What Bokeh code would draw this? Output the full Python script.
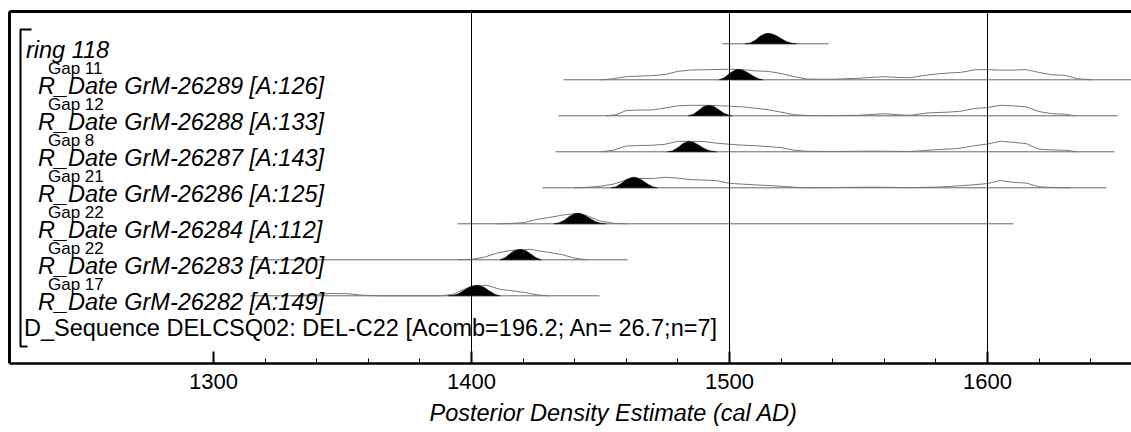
import numpy as np
from bokeh.plotting import figure
from bokeh.models import Range1d, FixedTicker, LinearAxis, Span, Title
from bokeh.core.properties import value
from bokeh.embed import file_html
from bokeh.resources import INLINE

# ---------------- data ----------------
row_labels = ["ring 118",
              "R_Date GrM-26289 [A:126]",
              "R_Date GrM-26288 [A:133]",
              "R_Date GrM-26287 [A:143]",
              "R_Date GrM-26286 [A:125]",
              "R_Date GrM-26284 [A:112]",
              "R_Date GrM-26283 [A:120]",
              "R_Date GrM-26282 [A:149]"]
gap_labels = ["", "Gap 11", "Gap 12", "Gap 8", "Gap 21", "Gap 22", "Gap 22", "Gap 17"]
sequence_label = "D_Sequence DELCSQ02: DEL-C22 [Acomb=196.2; An= 26.7;n=7]"
x_title = "Posterior Density Estimate (cal AD)"

range_start = [1497.3, 1435.7, 1433.7, 1432.6, 1427.5, 1394.6, 1314.3, 1314.3]
range_end = [1538.4, 1660.0, 1650.4, 1649.2, 1646.1, 1610.0, 1460.5, 1449.6]

major_ticks = [1300, 1400, 1500, 1600]
minor_ticks = [1320, 1340, 1360, 1380, 1420, 1440, 1460, 1480,
               1520, 1540, 1560, 1580, 1620, 1640]
grid_years = [1400, 1500, 1600]

# unmodelled (prior) likelihoods, relative height
prior_26289_x = [1450, 1455, 1460, 1465, 1470, 1475, 1480, 1485, 1490, 1495, 1500, 1505, 1510, 1515,
                 1520, 1525, 1530, 1535, 1540, 1550, 1560, 1565, 1570, 1575, 1580, 1585, 1590, 1595,
                 1600, 1605, 1610, 1615, 1620, 1625, 1630, 1635, 1640]
prior_26289_y = [0, 0.1, 0.3, 0.35, 0.4, 0.5, 0.8, 0.93, 0.95, 0.98, 1.0, 0.97, 0.85, 0.8,
                 0.6, 0.3, 0.08, 0.05, 0.05, 0.15, 0.3, 0.22, 0.2, 0.4, 0.55, 0.65, 0.72, 0.95,
                 0.97, 0.92, 0.92, 0.97, 0.7, 0.48, 0.42, 0.1, 0]
prior_26288_x = [1452, 1456, 1460, 1465, 1470, 1475, 1480, 1485, 1490, 1495, 1500, 1505, 1510, 1515,
                 1520, 1525, 1530, 1540, 1550, 1560, 1565, 1570, 1577, 1585, 1590, 1595, 1600, 1605,
                 1610, 1615, 1620, 1625, 1630, 1634]
prior_26288_y = [0, 0.1, 0.5, 0.55, 0.55, 0.75, 0.95, 1.0, 1.0, 0.97, 0.92, 0.85, 0.72, 0.58,
                 0.35, 0.1, 0.03, 0.02, 0.05, 0.2, 0.1, 0.05, 0.28, 0.35, 0.45, 0.7, 0.78, 1.0,
                 0.95, 0.85, 0.4, 0.2, 0.15, 0]
prior_26287_x = [1450, 1455, 1460, 1465, 1470, 1475, 1480, 1485, 1490, 1495, 1500, 1505, 1510, 1515,
                 1520, 1525, 1530, 1540, 1555, 1570, 1580, 1588, 1595, 1600, 1605, 1610, 1615, 1620,
                 1625, 1630, 1635]
prior_26287_y = [0, 0.15, 0.55, 0.6, 0.62, 0.72, 1.0, 1.0, 0.98, 0.82, 0.72, 0.63, 0.58, 0.5,
                 0.4, 0.15, 0.05, 0.03, 0.06, 0.03, 0.2, 0.3, 0.58, 0.75, 1.0, 0.9, 0.78, 0.25,
                 0.18, 0.15, 0]
prior_26286_x = [1440, 1445, 1450, 1455, 1460, 1465, 1470, 1475, 1480, 1485, 1490, 1495, 1500, 1505,
                 1510, 1515, 1520, 1525, 1530, 1555, 1570, 1580, 1590, 1595, 1600, 1605, 1610, 1615,
                 1620, 1625, 1632]
prior_26286_y = [0, 0.05, 0.15, 0.35, 0.75, 0.88, 0.88, 1.0, 0.92, 0.78, 0.74, 0.68, 0.42, 0.35,
                 0.28, 0.22, 0.15, 0.05, 0, 0.06, 0.02, 0.06, 0.2, 0.3, 0.4, 0.7, 0.52, 0.45,
                 0.1, 0.03, 0]
prior_26284_x = [1410, 1415, 1420, 1425, 1430, 1435, 1440, 1442, 1445, 1450, 1455, 1460]
prior_26284_y = [0, 0.03, 0.1, 0.4, 0.6, 0.82, 0.97, 1.0, 0.75, 0.25, 0.05, 0]
prior_26283_x = [1395, 1400, 1405, 1410, 1415, 1420, 1423, 1426, 1430, 1435, 1440, 1445]
prior_26283_y = [0, 0.05, 0.25, 0.65, 0.88, 0.95, 1.0, 0.85, 0.7, 0.5, 0.15, 0]
prior_26282_x = [1330, 1338, 1345, 1352, 1358, 1365, 1388, 1393, 1398, 1402, 1406, 1411, 1416,
                 1421, 1426, 1430]
prior_26282_y = [0, 0.1, 0.22, 0.2, 0.05, 0, 0, 0.15, 0.7, 0.93, 1.0, 0.62, 0.47,
                 0.3, 0.07, 0]

# modelled (posterior) densities, relative height
post_ring118_x = [1506, 1508, 1510, 1512, 1514, 1515, 1516, 1518, 1520, 1522, 1524, 1526]
post_ring118_y = [0, 0.08, 0.35, 0.75, 0.97, 1.0, 0.97, 0.8, 0.5, 0.22, 0.07, 0]
post_26289_x = [1496, 1498, 1500, 1502, 1503.5, 1505, 1507, 1509, 1511, 1513]
post_26289_y = [0, 0.2, 0.6, 0.92, 1.0, 0.93, 0.7, 0.38, 0.12, 0]
post_26288_x = [1484, 1486, 1488, 1490, 1492, 1494, 1496, 1498, 1500, 1501]
post_26288_y = [0, 0.15, 0.5, 0.88, 1.0, 0.88, 0.55, 0.22, 0.05, 0]
post_26287_x = [1476, 1478, 1480, 1482, 1484, 1486, 1488, 1490, 1492, 1494, 1495]
post_26287_y = [0, 0.1, 0.4, 0.8, 1.0, 0.92, 0.65, 0.35, 0.12, 0.03, 0]
post_26286_x = [1454, 1456, 1458, 1460, 1462, 1463, 1464, 1466, 1468, 1470, 1472]
post_26286_y = [0, 0.1, 0.4, 0.78, 0.98, 1.0, 0.97, 0.75, 0.4, 0.12, 0]
post_26284_x = [1432, 1434, 1436, 1438, 1440, 1441, 1442, 1444, 1446, 1448, 1450, 1452]
post_26284_y = [0, 0.1, 0.35, 0.72, 0.97, 1.0, 0.97, 0.8, 0.5, 0.22, 0.06, 0]
post_26283_x = [1411, 1413, 1415, 1417, 1419, 1421, 1423, 1425, 1427]
post_26283_y = [0, 0.2, 0.6, 0.92, 1.0, 0.88, 0.55, 0.2, 0]
post_26282_x = [1391, 1393, 1395, 1397, 1399, 1401, 1402, 1403, 1405, 1407, 1409, 1411]
post_26282_y = [0, 0.05, 0.2, 0.5, 0.82, 0.98, 1.0, 0.98, 0.8, 0.45, 0.15, 0]

prior_rows = [(1, prior_26289_x, prior_26289_y), (2, prior_26288_x, prior_26288_y),
              (3, prior_26287_x, prior_26287_y), (4, prior_26286_x, prior_26286_y),
              (5, prior_26284_x, prior_26284_y), (6, prior_26283_x, prior_26283_y),
              (7, prior_26282_x, prior_26282_y)]
post_rows = [(0, post_ring118_x, post_ring118_y), (1, post_26289_x, post_26289_y),
             (2, post_26288_x, post_26288_y), (3, post_26287_x, post_26287_y),
             (4, post_26286_x, post_26286_y), (5, post_26284_x, post_26284_y),
             (6, post_26283_x, post_26283_y), (7, post_26282_x, post_26282_y)]

# ---------------- layout ----------------
PX_PER_YR = 2.58
PX_PER_ROW = 36.0
LEFT = 9
TOP = 11
FRAME_W = 1131 - LEFT
FRAME_H = 352
X0 = 1400 - 462 / PX_PER_YR
X1 = X0 + FRAME_W / PX_PER_YR
Y1 = 32.3 / PX_PER_ROW
Y0 = Y1 - FRAME_H / PX_PER_ROW
AMP = 10.5 / PX_PER_ROW
FONT = "Liberation Sans"

def px_x(px):
    return X0 + px / PX_PER_YR

def px_y(px_from_top):
    return Y1 - px_from_top / PX_PER_ROW

p = figure(width=1131, height=432, x_range=Range1d(X0, X1), y_range=Range1d(Y0, Y1),
           output_backend="svg", toolbar_location=None,
           min_border_left=LEFT, min_border_right=0, min_border_top=TOP,
           min_border_bottom=432 - TOP - FRAME_H)
p.grid.visible = False
p.outline_line_color = None
p.background_fill_color = "white"
p.border_fill_color = "white"

# baselines
rows = list(range(len(row_labels)))
p.segment(x0=range_start, y0=[-i for i in rows], x1=range_end, y1=[-i for i in rows],
          line_color="#666666", line_width=1)

# priors
p.multi_line(xs=[list(xv) for _, xv, _ in prior_rows],
             ys=[[-i + AMP * v for v in yv] for i, _, yv in prior_rows],
             line_color="#777777", line_width=1)

# posteriors
p.patches(xs=[list(xv) for _, xv, _ in post_rows],
          ys=[[-i + AMP * v for v in yv] for i, _, yv in post_rows],
          fill_color="black", line_color="black", line_width=0.5)

# vertical reference lines
for yr in grid_years:
    p.add_layout(Span(location=yr, dimension="height", line_color="black", line_width=1))

# labels
p.text(x=[px_x(16.5)], y=[-0 - 6.5 / PX_PER_ROW], text=[row_labels[0]],
       text_font=value(FONT), text_font_size=value("23.5px"), text_font_style="italic",
       text_baseline="alphabetic", text_align="left", text_color="black")
p.text(x=[px_x(28.5)] * 7, y=[-i - 6.5 / PX_PER_ROW for i in rows[1:]], text=row_labels[1:],
       text_font=value(FONT), text_font_size=value("23.5px"), text_font_style="italic",
       text_baseline="alphabetic", text_align="left", text_color="black")
p.text(x=[px_x(38.5)] * 7, y=[-i + 11 / PX_PER_ROW for i in rows[1:]], text=gap_labels[1:],
       text_font=value(FONT), text_font_size=value("17px"),
       text_baseline="alphabetic", text_align="left", text_color="black")
p.text(x=[px_x(14.5)], y=[px_y(316.3)], text=[sequence_label],
       text_font=value(FONT), text_font_size=value("23.5px"),
       text_baseline="alphabetic", text_align="left", text_color="black")

# bracket
p.line(x=[px_x(22), px_x(11), px_x(11), px_x(18)],
       y=[px_y(18), px_y(18), px_y(335), px_y(335)], line_color="black", line_width=2)

# bottom axis
ax = p.xaxis[0]
ax.ticker = FixedTicker(ticks=major_ticks, minor_ticks=minor_ticks)
ax.major_tick_in = 12
ax.major_tick_out = 0
ax.minor_tick_in = 5
ax.minor_tick_out = 0
ax.major_tick_line_width = 2
ax.minor_tick_line_width = 1
ax.major_tick_line_color = "black"
ax.minor_tick_line_color = "black"
ax.axis_line_width = 2.5
ax.axis_line_color = "black"
ax.major_label_text_font = FONT
ax.major_label_text_font_size = "22px"
ax.major_label_text_color = "black"
ax.major_label_standoff = 10

# left border as axis line
ay = p.yaxis[0]
ay.ticker = FixedTicker(ticks=[])
ay.major_tick_line_color = None
ay.minor_tick_line_color = None
ay.major_tick_out = 0
ay.minor_tick_out = 0
ay.major_label_standoff = 0
ay.major_label_text_font_size = "0px"
ay.axis_line_width = 3
ay.axis_line_color = "black"

# top border as axis line
at = LinearAxis(ticker=FixedTicker(ticks=[]), major_tick_line_color=None, minor_tick_line_color=None,
                major_tick_out=0, minor_tick_out=0, major_label_standoff=0,
                major_label_text_font_size="0px", axis_line_width=3, axis_line_color="black")
p.add_layout(at, "above")

# axis title
t = Title(text=x_title, align="left", offset=420, text_font=FONT, text_font_size="23.5px",
          text_font_style="italic", text_color="black", standoff=13)
p.add_layout(t, "below")

open("out.html", "w").write(file_html(p, INLINE))
